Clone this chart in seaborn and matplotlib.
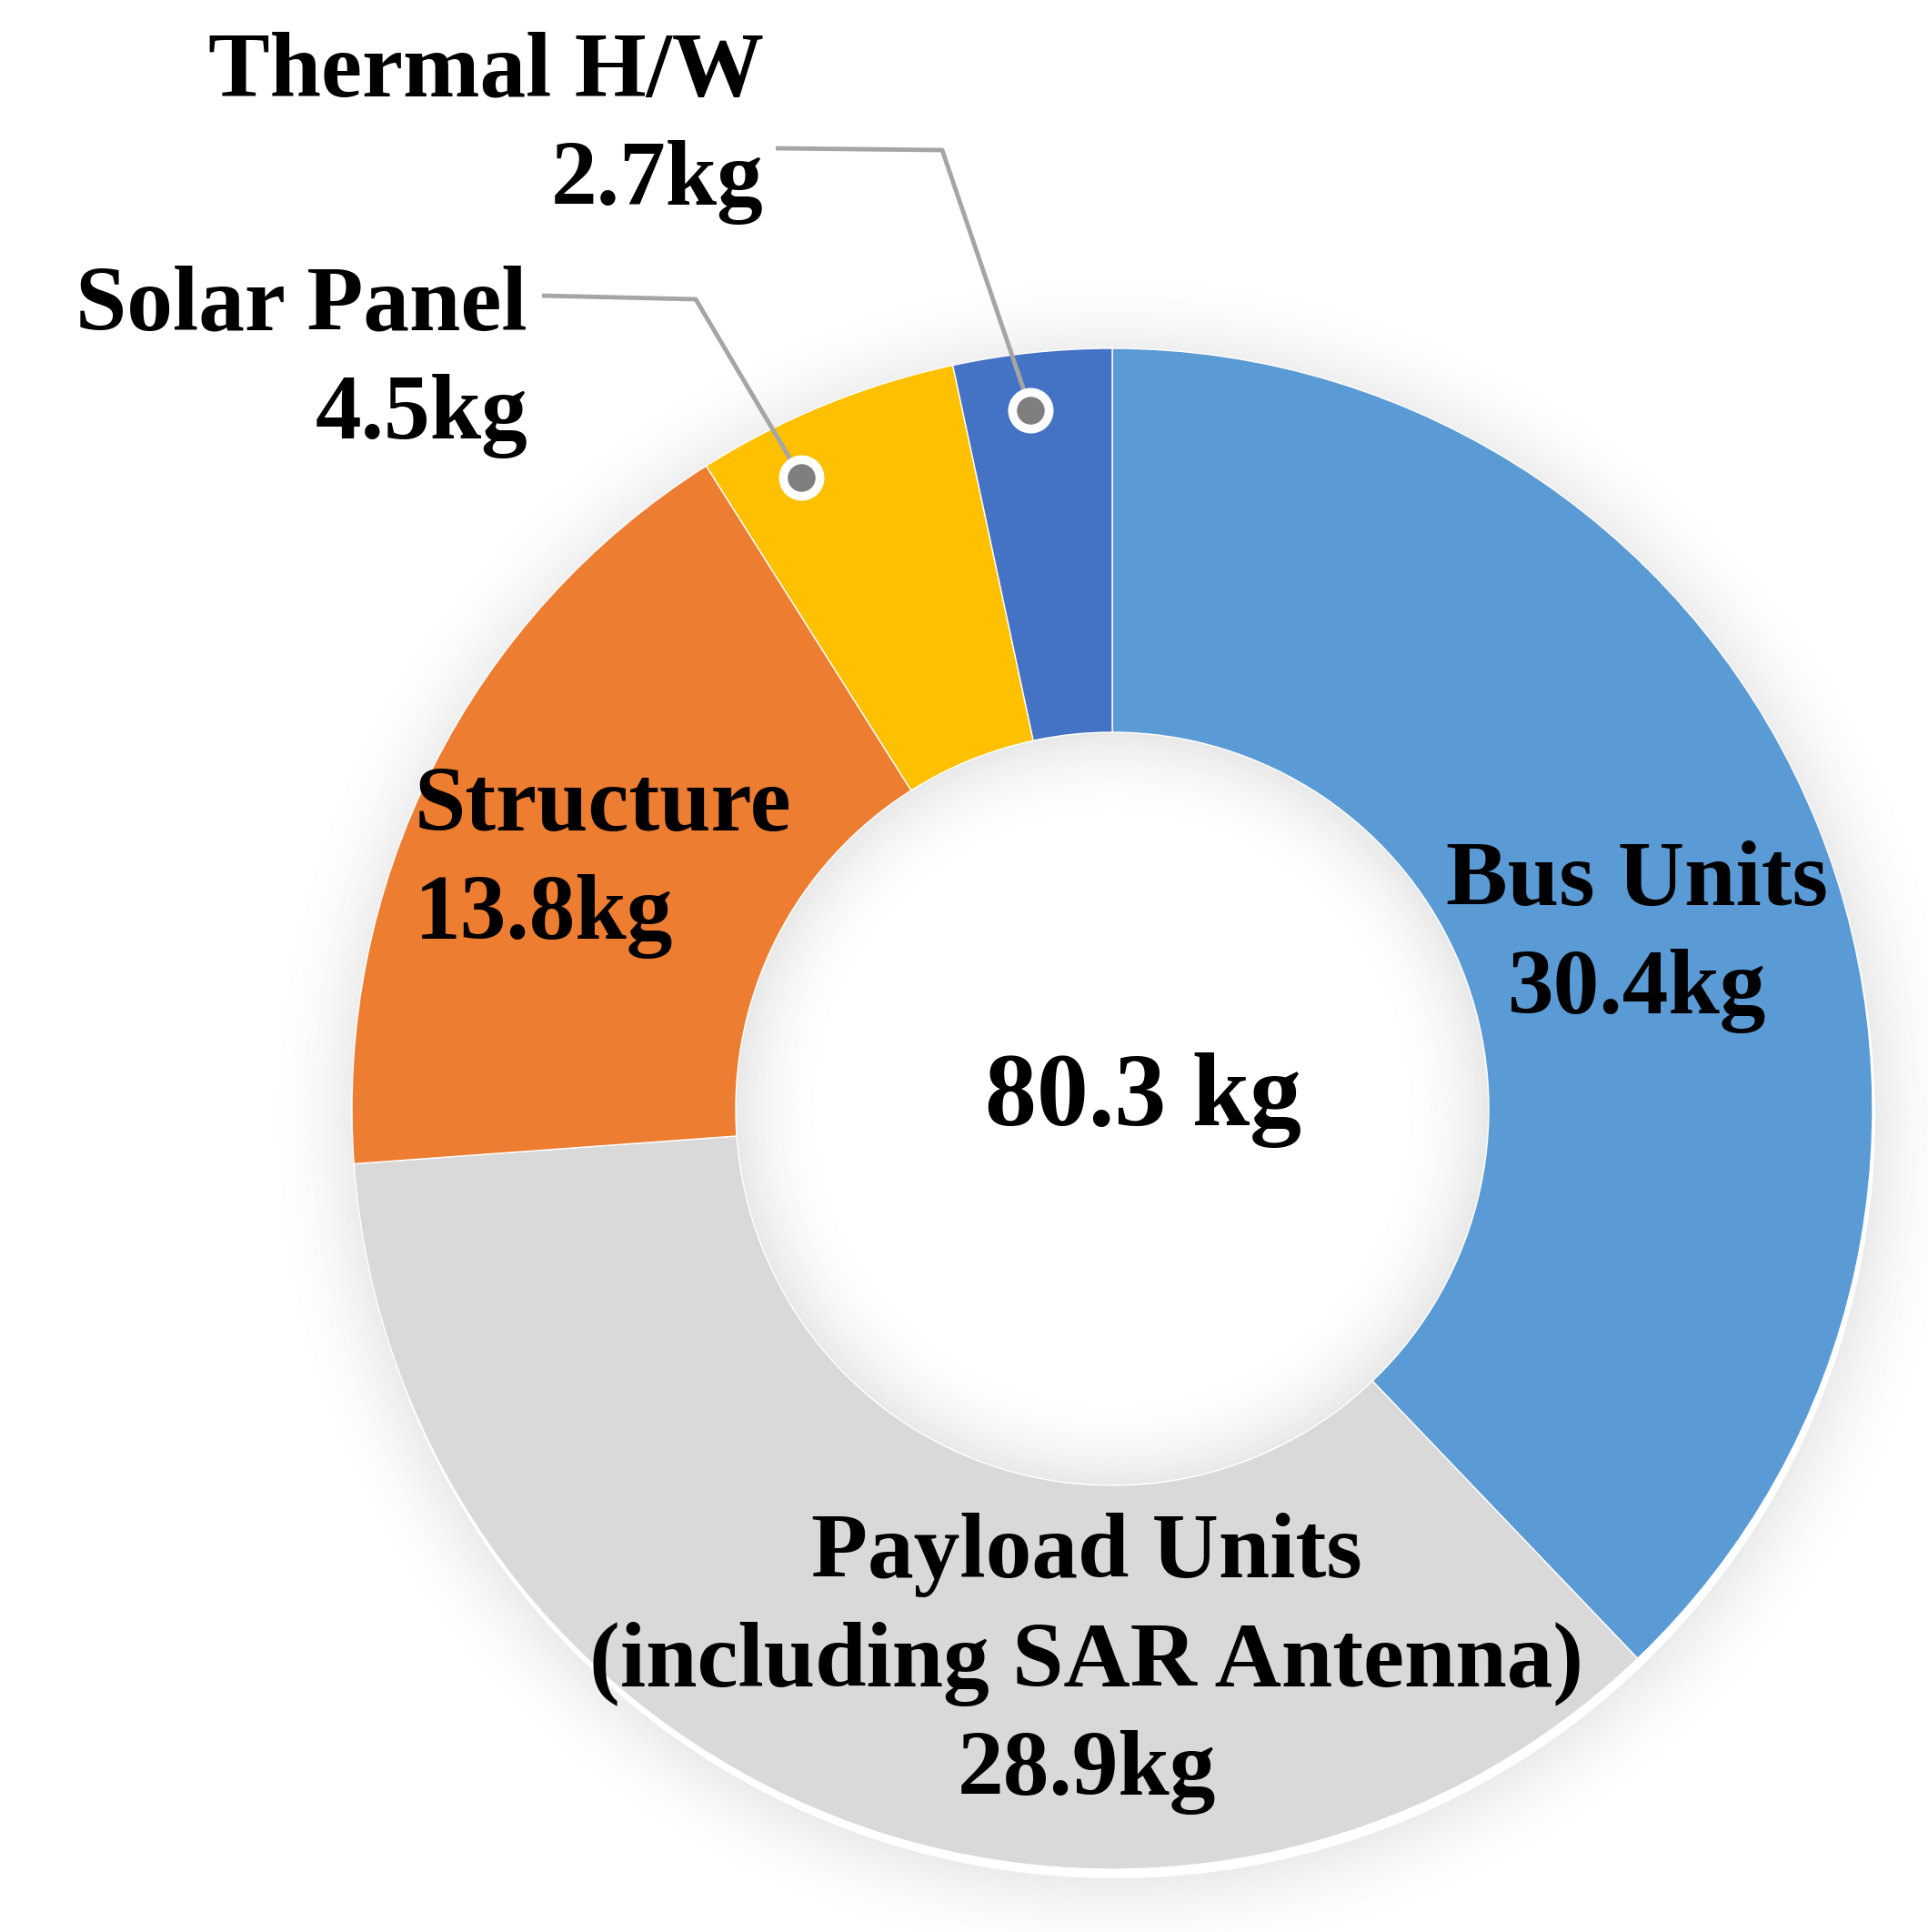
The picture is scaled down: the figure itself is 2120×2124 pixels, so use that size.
import numpy as np
import matplotlib
matplotlib.use("Agg")
import matplotlib.pyplot as plt
from matplotlib.patches import Wedge
import seaborn as sns

# data
parts = ["Bus Units", "Payload Units\n(including SAR Antenna)", "Structure", "Solar Panel", "Thermal H/W"]
mass_kg = [30.4, 28.9, 13.8, 4.5, 2.7]
colors = ["#5B9BD5", "#D9D9D9", "#ED7D31", "#FFC000", "#4472C4"]
total_label = "80.3 kg"

sns.set_theme(style="white")
plt.rcParams['font.family'] = ['Liberation Serif', 'DejaVu Serif']

W, H = 2120, 2124
fig = plt.figure(figsize=(W / 100, H / 100), dpi=100)
ax = fig.add_axes([0, 0, 1, 1])
ax.set_xlim(0, W)
ax.set_ylim(0, H)
ax.axis("off")

cx, cy = 1223, H - 1219
r_out, r_in = 836, 414

# soft shadow around the ring and inside the hole
n = 50
for k in range(n):
    ax.add_patch(Wedge((cx + 3, cy - 10), r_out + 2 * k + 2, 0, 360, width=2.2,
                       facecolor="black", edgecolor="none", alpha=0.07 * (1 - k / n) ** 2))
for k in range(n):
    ax.add_patch(Wedge((cx, cy), r_in - 2 * k, 0, 360, width=2.2,
                       facecolor="black", edgecolor="none", alpha=0.08 * (1 - k / n) ** 2))

wedges, _ = ax.pie(mass_kg, colors=colors, startangle=90, counterclock=False,
                   radius=r_out, center=(cx, cy),
                   wedgeprops=dict(width=r_out - r_in, edgecolor="white", linewidth=1))
ax.set_xlim(0, W)
ax.set_ylim(0, H)
ax.set_aspect("auto")

txt = dict(fontsize=73, fontweight="bold", color="black", linespacing=1.37)

# inside labels
ax.text(1800, H - 1030, f"{parts[0]}\n{mass_kg[0]}kg", ha="center", va="center", **txt)
ax.text(1195, H - 1829, f"{parts[1]}\n{mass_kg[1]}kg", ha="center", va="center", **txt)
ax.text(456, H - 948, f"{parts[2]}\n{mass_kg[2]}kg", ha="left", va="center", **txt)
ax.text(1257, H - 1210, total_label, ha="center", va="center", fontsize=82,
        fontweight="bold", color="black")

# outside labels with leader lines (frac = where along the wedge the anchor sits)
outside = [(3, 0.70, 580, H - 398, [(596, H - 325), (765, H - 329)]),
           (4, 0.55, 840, H - 141, [(853, H - 163), (1036, H - 165)])]
for i, frac, tx, ty, path in outside:
    ax.text(tx, ty, f"{parts[i]}\n{mass_kg[i]}kg", ha="right", va="center", **txt)
    w = wedges[i]
    ang = np.deg2rad(w.theta1 + frac * (w.theta2 - w.theta1))
    dx, dy = cx + 0.925 * r_out * np.cos(ang), cy + 0.925 * r_out * np.sin(ang)
    xs = [p[0] for p in path] + [dx]
    ys = [p[1] for p in path] + [dy]
    ax.plot(xs, ys, color="#A5A5A5", lw=3.5, solid_capstyle="butt")
    ax.plot(dx, dy, "o", ms=29, mfc="#7F7F7F", mec="white", mew=7)

fig.savefig("out.png", dpi=100, facecolor="white")
